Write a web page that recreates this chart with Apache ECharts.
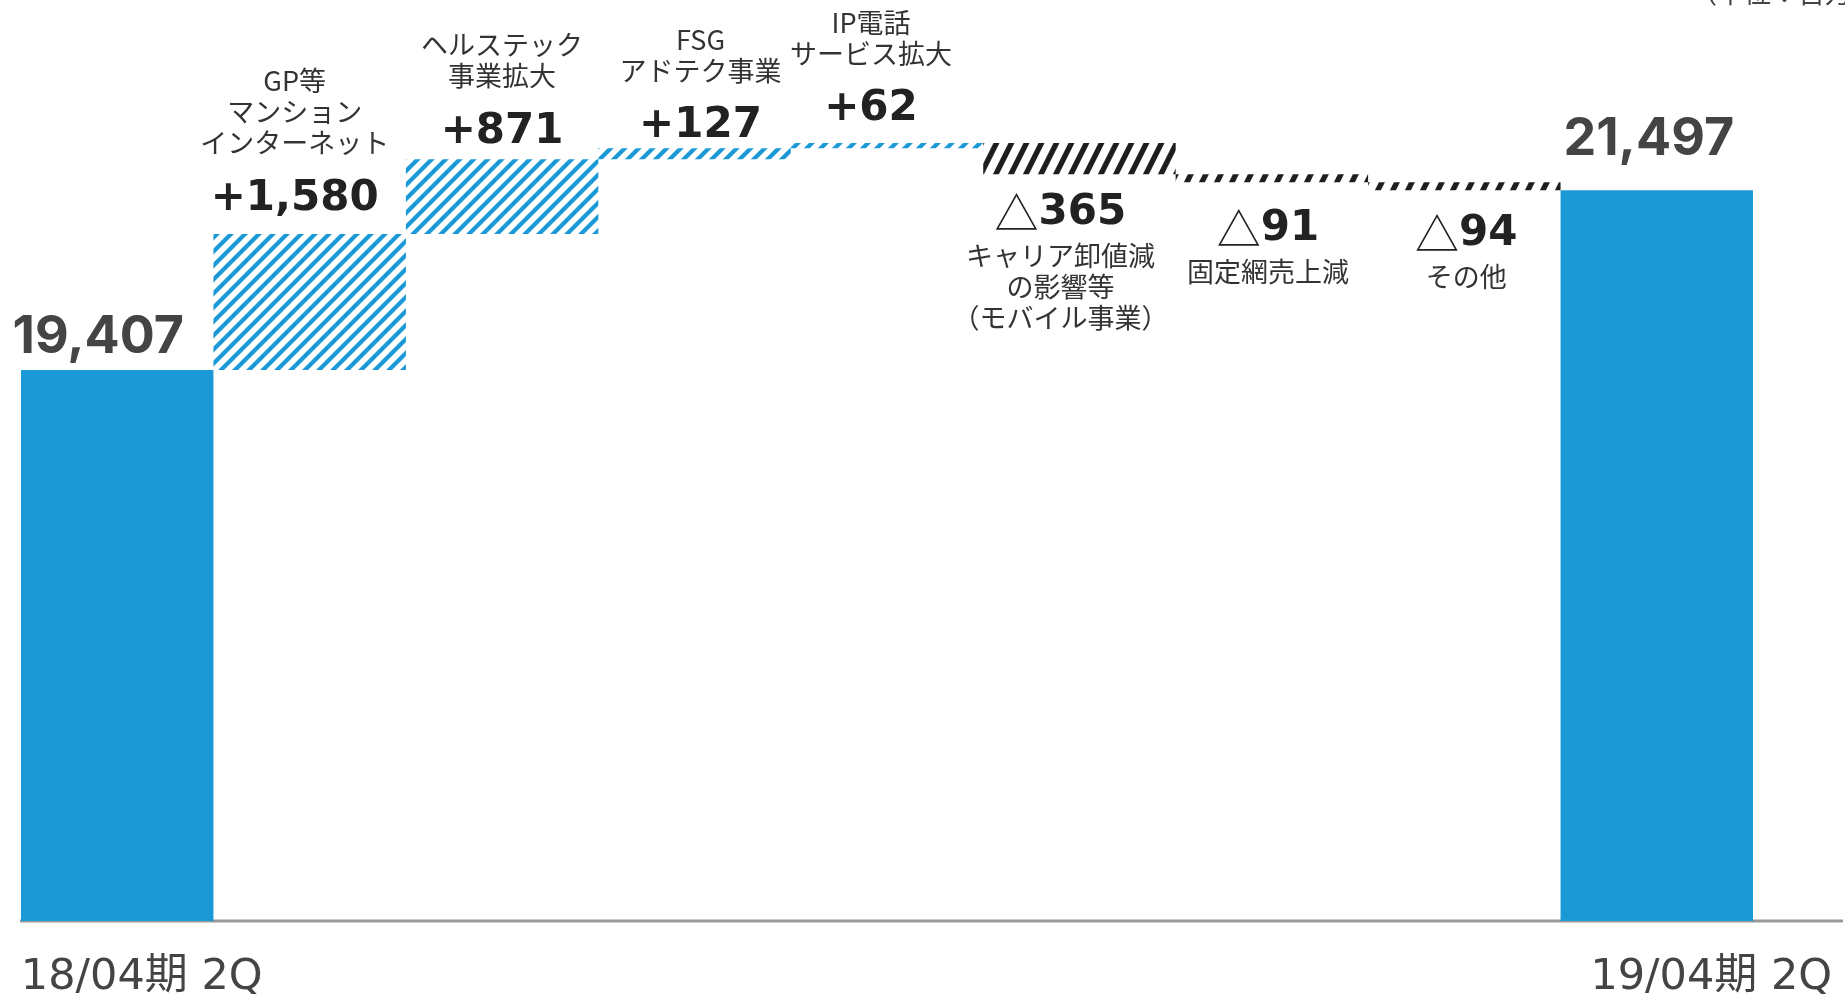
<!DOCTYPE html>
<html>
<head>
<meta charset="utf-8">
<script src="https://cdn.jsdelivr.net/npm/echarts@6/dist/echarts.min.js"></script>
<style>
  html, body { margin: 0; padding: 0; background: #fff; }
  #chart { width: 1845px; height: 994px; }
</style>
</head>
<body>
<div id="chart"></div>
<script>
// ---------- data ----------
const categories = [
  '18/04期 2Q',
  'GP等\nマンション\nインターネット',
  'ヘルステック\n事業拡大',
  'FSG\nアドテク事業',
  'IP電話\nサービス拡大',
  'キャリア卸値減\nの影響等\n（モバイル事業）',
  '固定網売上減',
  'その他',
  '19/04期 2Q'
];
const startTotal = 19407;
const endTotal = 21497;
const changes = [1580, 871, 127, 62, -365, -91, -94];
const unitText = '（単位：百万円）';

// ---------- derived series ----------
const n = categories.length;
const baseData = [];
const totalData = [];
const upData = [];
const downData = [];
let running = startTotal;
for (let i = 0; i < n; i++) {
  if (i === 0) {
    baseData.push(0); totalData.push(startTotal); upData.push('-'); downData.push('-');
  } else if (i === n - 1) {
    baseData.push(0); totalData.push(endTotal); upData.push('-'); downData.push('-');
  } else {
    const c = changes[i - 1];
    totalData.push('-');
    if (c >= 0) {
      baseData.push(running); upData.push(c); downData.push('-');
    } else {
      baseData.push(running + c); upData.push('-'); downData.push(-c);
    }
    running += c;
  }
}

// ---------- styles ----------
const BLUE = '#1b99d6';
function stripes(w, h, thick, color) {
  const c = document.createElement('canvas');
  c.width = w; c.height = h;
  const g = c.getContext('2d');
  g.fillStyle = color;
  for (const s of [-w, 0, w]) {
    g.beginPath();
    g.moveTo(s, h); g.lineTo(s + thick, h); g.lineTo(s + thick + w, 0); g.lineTo(s + w, 0);
    g.closePath(); g.fill();
  }
  return c;
}
const bluePattern = { image: stripes(14, 14, 6, BLUE), repeat: 'repeat' };
const blackPattern = { image: stripes(15, 30, 6, '#1e1e1e'), repeat: 'repeat' };

const JP = '"Noto Sans CJK JP", "Noto Sans", sans-serif';
const LATIN_JP = '"DejaVu Sans", "Noto Sans CJK JP", sans-serif';
const NUM = '"DejaVu Sans", sans-serif';
const TOTAL_NUM = 'Inter, "Noto Sans", sans-serif';
const fmt = v => Math.abs(v).toLocaleString('en-US');
const descLines = i => categories[i].split('\n').map(s => '{d|' + s + '}').join('\n');

// label nudges (pixels), by category index
const totalLabelOffsets = { 0: [-19, 0], 8: [-8, -18] };
const deltaLabelOffsets = {
  1: [-15, -3], 2: [0, 5], 3: [6, 10], 4: [-16, -1],
  5: [-19, -3], 6: [-4, 5], 7: [2, 2]
};
const axisLabelPad = { 0: 49, 8: 109 };

const withOffsets = (arr, map) => arr.map((v, i) =>
  v === '-' ? v : { value: v, label: { offset: map[i] || [0, 0] } });

const chart = echarts.init(document.getElementById('chart'), null, { renderer: 'canvas' });
chart.setOption({
  animation: false,
  grid: { left: 21, right: 92, top: 61, bottom: 73, containLabel: false, outerBoundsMode: 'none' },
  xAxis: {
    type: 'category',
    data: categories,
    axisLine: { show: false },
    axisTick: { show: false },
    axisLabel: {
      interval: 0,
      margin: 35,
      formatter: (v, i) => (i === 0 || i === n - 1) ? '{x' + i + '|' + v + '}' : '',
      rich: {
        x0: { fontFamily: LATIN_JP, fontSize: 43, color: '#444', padding: [0, 0, 0, axisLabelPad[0]] },
        x8: { fontFamily: LATIN_JP, fontSize: 43, color: '#444', padding: [0, 0, 0, axisLabelPad[8]] }
      }
    }
  },
  yAxis: {
    type: 'value', min: 13000, max: 23000, show: false, splitLine: { show: false }
  },
  graphic: [
    { type: 'line', z: 0, shape: { x1: 20, y1: 921, x2: 1843, y2: 921 }, style: { stroke: '#999', lineWidth: 3 } },
    { type: 'text', x: 1690, y: -21, style: { text: unitText, font: '27px "Noto Sans CJK JP"', fill: '#444' } }
  ],
  series: [
    {
      name: 'base', type: 'bar', stack: 'w', barCategoryGap: '0%', silent: true,
      itemStyle: { color: 'transparent' }, data: baseData
    },
    {
      name: 'total', type: 'bar', stack: 'w', barCategoryGap: '0%',
      itemStyle: { color: BLUE },
      data: withOffsets(totalData, totalLabelOffsets),
      label: {
        show: true, position: 'top', distance: 7,
        fontFamily: TOTAL_NUM, fontWeight: 'bold', fontSize: 52, lineHeight: 51, color: '#444',
        formatter: p => fmt(p.value)
      }
    },
    {
      name: 'increase', type: 'bar', stack: 'w', barCategoryGap: '0%',
      itemStyle: { color: bluePattern },
      data: withOffsets(upData, deltaLabelOffsets),
      label: {
        show: true, position: 'top', distance: -7.5,
        formatter: p => descLines(p.dataIndex) + '\n{v|+' + fmt(p.value) + '}',
        rich: {
          d: { fontFamily: JP, fontSize: 27, lineHeight: 31, color: '#333' },
          v: { fontFamily: NUM, fontWeight: 'bold', fontSize: 42, lineHeight: 80, color: '#222' }
        }
      }
    },
    {
      name: 'decrease', type: 'bar', stack: 'w', barCategoryGap: '0%',
      itemStyle: { color: blackPattern },
      data: withOffsets(downData, deltaLabelOffsets),
      label: {
        show: true, position: 'bottom', distance: 15,
        formatter: p => '{t|△}{v|' + fmt(p.value) + '}\n' + descLines(p.dataIndex),
        rich: {
          d: { fontFamily: JP, fontSize: 27, lineHeight: 31, color: '#333' },
          t: { fontFamily: JP, fontSize: 44, lineHeight: 54, color: '#222' },
          v: { fontFamily: NUM, fontWeight: 'bold', fontSize: 42, lineHeight: 54, color: '#222' }
        }
      }
    }
  ]
});
</script>
</body>
</html>
